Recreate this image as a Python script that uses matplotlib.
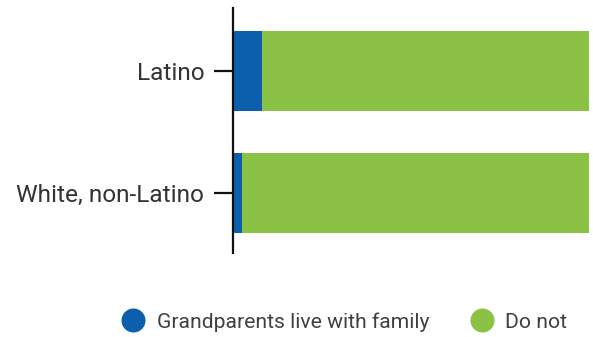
import matplotlib
matplotlib.use("Agg")
import matplotlib.pyplot as plt
from matplotlib.lines import Line2D

plt.rcParams['font.family'] = ['Roboto', 'DejaVu Sans']

groups = ["Latino", "White, non-Latino"]
live_with = [8.1, 2.5]
do_not = [91.9, 97.5]
series_names = ["Grandparents live with family", "Do not"]
colors = ["#0C5FAD", "#8BC145"]

fig = plt.figure(figsize=(5.93, 3.37), dpi=100)
ax = fig.add_axes([0.393, 0.249, 0.6, 0.727])

y = range(len(groups))
ax.barh(y, live_with, height=0.656, color=colors[0], linewidth=0)
ax.barh(y, do_not, left=live_with, height=0.656, color=colors[1], linewidth=0)

ax.set_xlim(0, 100)
ax.set_ylim(1.49, -0.516)
ax.set_yticks(list(y))
ax.set_yticklabels(groups, fontsize=17.6, color="#333333")
ax.tick_params(axis="y", length=13.7, width=1.6, pad=7, color="#111111")
ax.set_xticks([])
for s in ["top", "right", "bottom"]:
    ax.spines[s].set_visible(False)
ax.spines["left"].set_linewidth(1.6)
ax.spines["left"].set_color("#111111")

handles = [Line2D([], [], marker="o", linestyle="", markersize=17.3,
                  markerfacecolor=c, markeredgewidth=0) for c in colors]
fig.legend(handles, series_names, loc="center", bbox_to_anchor=(0.58, 0.045),
           ncol=2, frameon=False, fontsize=15.2, labelcolor="#404040",
           handletextpad=0.5, columnspacing=1.9, handlelength=1.2)

fig.savefig("out.png", dpi=100)
